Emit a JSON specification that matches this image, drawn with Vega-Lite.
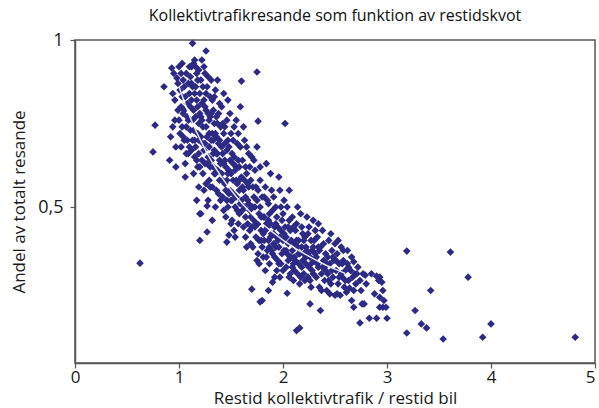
{
  "$schema": "https://vega.github.io/schema/vega-lite/v6.json",
  "width": 520,
  "height": 323,
  "autosize": {"type": "none"},
  "padding": {"left": 75, "top": 40, "right": 4, "bottom": 45},
  "background": "white",
  "config": {
    "view": {"stroke": "#555555", "strokeWidth": 1.5},
    "font": "Open Sans",
    "axis": {"domainColor": "#555555", "domainWidth": 1.5, "tickColor": "#555555", "tickWidth": 1.2, "grid": false, "labelColor": "#1a1a1a", "titleColor": "#1a1a1a", "labelFont": "Open Sans", "titleFont": "Open Sans", "titleFontWeight": "normal"}
  },
  "title": {"text": "Kollektivtrafikresande som funktion av restidskvot", "fontSize": 16, "fontWeight": "normal", "font": "Open Sans", "color": "#111111", "offset": 7, "anchor": "middle"},
  "datasets": {
    "fit": [
      {"x": 1.0, "y": 0.86}, {"x": 1.1, "y": 0.774}, {"x": 1.2, "y": 0.704}, {"x": 1.3, "y": 0.644}, {"x": 1.4, "y": 0.594}, {"x": 1.5, "y": 0.551}, {"x": 1.6, "y": 0.513}, {"x": 1.7, "y": 0.48}, {"x": 1.8, "y": 0.45}, {"x": 1.9, "y": 0.425}, {"x": 2.0, "y": 0.401}, {"x": 2.1, "y": 0.38}, {"x": 2.2, "y": 0.361}, {"x": 2.3, "y": 0.344}, {"x": 2.4, "y": 0.328}, {"x": 2.5, "y": 0.314}, {"x": 2.6, "y": 0.301}
    ],
    "pts": [
      {"x":0.625,"y":0.332},{"x":0.77,"y":0.745},{"x":0.75,"y":0.665},{"x":0.856,"y":0.86},
      {"x":0.92,"y":0.71},{"x":0.93,"y":0.916},{"x":0.94,"y":0.74},{"x":0.95,"y":0.90},{"x":0.96,"y":0.82},{"x":0.97,"y":0.68},{"x":0.98,"y":0.886},{"x":0.99,"y":0.79},{"x":0.91,"y":0.64},{"x":0.96,"y":0.76},{"x":0.99,"y":0.87},{"x":0.94,"y":0.84},{"x":0.97,"y":0.62},
      {"x":1.0,"y":0.92},{"x":1.01,"y":0.85},{"x":1.02,"y":0.80},{"x":1.03,"y":0.74},{"x":1.04,"y":0.88},{"x":1.05,"y":0.70},{"x":1.06,"y":0.83},{"x":1.07,"y":0.90},{"x":1.08,"y":0.77},{"x":1.09,"y":0.66},{"x":1.01,"y":0.72},{"x":1.03,"y":0.93},{"x":1.05,"y":0.86},{"x":1.06,"y":0.63},{"x":1.08,"y":0.81},{"x":1.09,"y":0.87},{"x":1.02,"y":0.68},{"x":1.04,"y":0.78},{"x":1.07,"y":0.74},{"x":1.1,"y":0.92},{"x":1.0,"y":0.76},{"x":1.06,"y":0.59},{"x":1.03,"y":0.83},{"x":1.08,"y":0.70},
      {"x":1.11,"y":0.89},{"x":1.12,"y":0.82},{"x":1.13,"y":0.99},{"x":1.13,"y":0.76},{"x":1.14,"y":0.93},{"x":1.15,"y":0.70},{"x":1.16,"y":0.86},{"x":1.17,"y":0.64},{"x":1.18,"y":0.80},{"x":1.19,"y":0.91},{"x":1.11,"y":0.73},{"x":1.12,"y":0.67},{"x":1.14,"y":0.60},{"x":1.15,"y":0.84},{"x":1.16,"y":0.77},{"x":1.17,"y":0.90},{"x":1.18,"y":0.72},{"x":1.19,"y":0.56},{"x":1.2,"y":0.84},{"x":1.11,"y":0.80},{"x":1.13,"y":0.86},{"x":1.15,"y":0.94},{"x":1.16,"y":0.68},{"x":1.18,"y":0.62},{"x":1.19,"y":0.75},{"x":1.12,"y":0.92},{"x":1.14,"y":0.79},{"x":1.17,"y":0.52},{"x":1.2,"y":0.48},{"x":1.2,"y":0.40},{"x":1.13,"y":0.70},{"x":1.19,"y":0.66},
      {"x":1.21,"y":0.88},{"x":1.22,"y":0.81},{"x":1.23,"y":0.74},{"x":1.24,"y":0.92},{"x":1.25,"y":0.69},{"x":1.26,"y":0.967},{"x":1.26,"y":0.84},{"x":1.27,"y":0.503},{"x":1.27,"y":0.425},{"x":1.27,"y":0.63},{"x":1.28,"y":0.78},{"x":1.29,"y":0.58},{"x":1.21,"y":0.71},{"x":1.22,"y":0.64},{"x":1.23,"y":0.86},{"x":1.24,"y":0.55},{"x":1.25,"y":0.80},{"x":1.26,"y":0.74},{"x":1.28,"y":0.89},{"x":1.29,"y":0.68},{"x":1.3,"y":0.83},{"x":1.21,"y":0.77},{"x":1.23,"y":0.60},{"x":1.25,"y":0.90},{"x":1.27,"y":0.71},{"x":1.28,"y":0.52},{"x":1.29,"y":0.76},{"x":1.22,"y":0.94},{"x":1.24,"y":0.67},{"x":1.3,"y":0.62},{"x":1.26,"y":0.57},{"x":1.21,"y":0.48},
      {"x":1.31,"y":0.88},{"x":1.32,"y":0.72},{"x":1.33,"y":0.79},{"x":1.34,"y":0.60},{"x":1.35,"y":0.85},{"x":1.36,"y":0.66},{"x":1.37,"y":0.75},{"x":1.38,"y":0.54},{"x":1.39,"y":0.81},{"x":1.31,"y":0.64},{"x":1.32,"y":0.56},{"x":1.33,"y":0.70},{"x":1.34,"y":0.83},{"x":1.35,"y":0.50},{"x":1.36,"y":0.77},{"x":1.37,"y":0.61},{"x":1.38,"y":0.69},{"x":1.39,"y":0.58},{"x":1.4,"y":0.74},{"x":1.31,"y":0.78},{"x":1.33,"y":0.62},{"x":1.35,"y":0.72},{"x":1.37,"y":0.88},{"x":1.39,"y":0.64},{"x":1.32,"y":0.46},{"x":1.36,"y":0.55},{"x":1.4,"y":0.52},{"x":1.34,"y":0.67},
      {"x":1.41,"y":0.80},{"x":1.42,"y":0.66},{"x":1.43,"y":0.72},{"x":1.44,"y":0.57},{"x":1.45,"y":0.62},{"x":1.46,"y":0.395},{"x":1.46,"y":0.76},{"x":1.47,"y":0.50},{"x":1.48,"y":0.416},{"x":1.48,"y":0.68},{"x":1.49,"y":0.55},{"x":1.5,"y":0.72},{"x":1.41,"y":0.60},{"x":1.42,"y":0.53},{"x":1.43,"y":0.84},{"x":1.44,"y":0.64},{"x":1.45,"y":0.47},{"x":1.46,"y":0.58},{"x":1.47,"y":0.70},{"x":1.48,"y":0.61},{"x":1.49,"y":0.78},{"x":1.5,"y":0.45},{"x":1.42,"y":0.75},{"x":1.44,"y":0.69},{"x":1.46,"y":0.52},{"x":1.49,"y":0.64},{"x":1.47,"y":0.82},{"x":1.43,"y":0.49},
      {"x":1.51,"y":0.66},{"x":1.52,"y":0.58},{"x":1.53,"y":0.74},{"x":1.54,"y":0.50},{"x":1.55,"y":0.62},{"x":1.56,"y":0.69},{"x":1.57,"y":0.45},{"x":1.58,"y":0.55},{"x":1.59,"y":0.80},{"x":1.6,"y":0.877},{"x":1.51,"y":0.52},{"x":1.52,"y":0.70},{"x":1.53,"y":0.43},{"x":1.54,"y":0.61},{"x":1.55,"y":0.76},{"x":1.56,"y":0.57},{"x":1.57,"y":0.64},{"x":1.58,"y":0.48},{"x":1.59,"y":0.68},{"x":1.6,"y":0.59},{"x":1.52,"y":0.63},{"x":1.55,"y":0.53},{"x":1.57,"y":0.72},{"x":1.6,"y":0.52},{"x":1.54,"y":0.41},{"x":1.58,"y":0.62},{"x":1.51,"y":0.46},
      {"x":1.61,"y":0.64},{"x":1.62,"y":0.55},{"x":1.63,"y":0.70},{"x":1.64,"y":0.47},{"x":1.65,"y":0.60},{"x":1.66,"y":0.52},{"x":1.67,"y":0.66},{"x":1.68,"y":0.43},{"x":1.69,"y":0.58},{"x":1.7,"y":0.50},{"x":1.61,"y":0.49},{"x":1.62,"y":0.74},{"x":1.63,"y":0.58},{"x":1.64,"y":0.41},{"x":1.65,"y":0.68},{"x":1.66,"y":0.45},{"x":1.67,"y":0.56},{"x":1.68,"y":0.62},{"x":1.69,"y":0.39},{"x":1.7,"y":0.254},{"x":1.7,"y":0.65},{"x":1.62,"y":0.44},{"x":1.65,"y":0.38},{"x":1.67,"y":0.51},{"x":1.69,"y":0.47},{"x":1.64,"y":0.53},
      {"x":1.71,"y":0.56},{"x":1.72,"y":0.46},{"x":1.73,"y":0.61},{"x":1.74,"y":0.41},{"x":1.75,"y":0.52},{"x":1.75,"y":0.904},{"x":1.76,"y":0.757},{"x":1.76,"y":0.36},{"x":1.77,"y":0.48},{"x":1.78,"y":0.216},{"x":1.78,"y":0.58},{"x":1.79,"y":0.43},{"x":1.8,"y":0.53},{"x":1.71,"y":0.38},{"x":1.72,"y":0.64},{"x":1.73,"y":0.50},{"x":1.74,"y":0.45},{"x":1.75,"y":0.34},{"x":1.76,"y":0.55},{"x":1.77,"y":0.40},{"x":1.78,"y":0.62},{"x":1.79,"y":0.47},{"x":1.8,"y":0.38},{"x":1.72,"y":0.53},{"x":1.75,"y":0.68},{"x":1.8,"y":0.22},{"x":1.77,"y":0.33},
      {"x":1.81,"y":0.47},{"x":1.82,"y":0.40},{"x":1.83,"y":0.56},{"x":1.84,"y":0.35},{"x":1.85,"y":0.44},{"x":1.86,"y":0.25},{"x":1.86,"y":0.51},{"x":1.87,"y":0.38},{"x":1.88,"y":0.60},{"x":1.89,"y":0.42},{"x":1.9,"y":0.275},{"x":1.9,"y":0.49},{"x":1.81,"y":0.35},{"x":1.82,"y":0.53},{"x":1.83,"y":0.43},{"x":1.84,"y":0.63},{"x":1.85,"y":0.37},{"x":1.86,"y":0.46},{"x":1.87,"y":0.33},{"x":1.88,"y":0.41},{"x":1.89,"y":0.55},{"x":1.9,"y":0.36},{"x":1.83,"y":0.31},{"x":1.85,"y":0.52},{"x":1.88,"y":0.45},{"x":1.82,"y":0.47},
      {"x":1.91,"y":0.42},{"x":1.92,"y":0.35},{"x":1.93,"y":0.50},{"x":1.94,"y":0.31},{"x":1.95,"y":0.44},{"x":1.96,"y":0.38},{"x":1.97,"y":0.55},{"x":1.98,"y":0.33},{"x":1.99,"y":0.46},{"x":2.0,"y":0.40},{"x":1.91,"y":0.53},{"x":1.92,"y":0.29},{"x":1.93,"y":0.38},{"x":1.94,"y":0.47},{"x":1.95,"y":0.34},{"x":1.96,"y":0.59},{"x":1.97,"y":0.41},{"x":1.98,"y":0.50},{"x":1.99,"y":0.36},{"x":2.0,"y":0.31},{"x":1.94,"y":0.41},{"x":1.97,"y":0.29},{"x":2.0,"y":0.48},{"x":1.92,"y":0.44},
      {"x":2.01,"y":0.37},{"x":2.02,"y":0.75},{"x":2.02,"y":0.44},{"x":2.03,"y":0.32},{"x":2.04,"y":0.242},{"x":2.04,"y":0.50},{"x":2.05,"y":0.39},{"x":2.06,"y":0.29},{"x":2.07,"y":0.43},{"x":2.08,"y":0.35},{"x":2.09,"y":0.47},{"x":2.1,"y":0.33},{"x":2.01,"y":0.52},{"x":2.03,"y":0.41},{"x":2.05,"y":0.34},{"x":2.06,"y":0.46},{"x":2.07,"y":0.30},{"x":2.08,"y":0.40},{"x":2.09,"y":0.37},{"x":2.1,"y":0.44},{"x":2.04,"y":0.36},{"x":2.06,"y":0.55},{"x":2.1,"y":0.28},
      {"x":2.11,"y":0.39},{"x":2.12,"y":0.34},{"x":2.13,"y":0.13},{"x":2.13,"y":0.45},{"x":2.14,"y":0.30},{"x":2.15,"y":0.40},{"x":2.16,"y":0.27},{"x":2.16,"y":0.36},{"x":2.17,"y":0.48},{"x":2.18,"y":0.32},{"x":2.19,"y":0.42},{"x":2.2,"y":0.36},{"x":2.11,"y":0.31},{"x":2.12,"y":0.43},{"x":2.14,"y":0.38},{"x":2.15,"y":0.33},{"x":2.17,"y":0.29},{"x":2.18,"y":0.44},{"x":2.19,"y":0.34},{"x":2.2,"y":0.30},{"x":2.16,"y":0.138},{"x":2.14,"y":0.50},
      {"x":2.21,"y":0.41},{"x":2.22,"y":0.33},{"x":2.23,"y":0.37},{"x":2.24,"y":0.29},{"x":2.25,"y":0.44},{"x":2.26,"y":0.21},{"x":2.26,"y":0.28},{"x":2.26,"y":0.35},{"x":2.27,"y":0.40},{"x":2.28,"y":0.31},{"x":2.29,"y":0.46},{"x":2.3,"y":0.34},{"x":2.21,"y":0.28},{"x":2.22,"y":0.38},{"x":2.24,"y":0.42},{"x":2.25,"y":0.32},{"x":2.27,"y":0.26},{"x":2.28,"y":0.37},{"x":2.29,"y":0.30},{"x":2.3,"y":0.40},{"x":2.23,"y":0.47},
      {"x":2.31,"y":0.36},{"x":2.32,"y":0.29},{"x":2.33,"y":0.41},{"x":2.34,"y":0.32},{"x":2.35,"y":0.26},{"x":2.36,"y":0.19},{"x":2.36,"y":0.38},{"x":2.37,"y":0.30},{"x":2.38,"y":0.43},{"x":2.39,"y":0.34},{"x":2.4,"y":0.28},{"x":2.31,"y":0.43},{"x":2.33,"y":0.33},{"x":2.35,"y":0.37},{"x":2.37,"y":0.25},{"x":2.39,"y":0.39},{"x":2.4,"y":0.32},{"x":2.34,"y":0.45},
      {"x":2.41,"y":0.36},{"x":2.42,"y":0.25},{"x":2.43,"y":0.30},{"x":2.44,"y":0.40},{"x":2.45,"y":0.33},{"x":2.46,"y":0.27},{"x":2.47,"y":0.37},{"x":2.48,"y":0.29},{"x":2.49,"y":0.34},{"x":2.5,"y":0.236},{"x":2.5,"y":0.39},{"x":2.42,"y":0.33},{"x":2.44,"y":0.28},{"x":2.46,"y":0.42},{"x":2.48,"y":0.35},{"x":2.45,"y":0.24},
      {"x":2.51,"y":0.31},{"x":2.52,"y":0.36},{"x":2.53,"y":0.27},{"x":2.54,"y":0.33},{"x":2.55,"y":0.236},{"x":2.56,"y":0.38},{"x":2.57,"y":0.29},{"x":2.58,"y":0.34},{"x":2.59,"y":0.26},{"x":2.6,"y":0.31},{"x":2.53,"y":0.40},{"x":2.56,"y":0.30},{"x":2.58,"y":0.37},{"x":2.52,"y":0.24},
      {"x":2.61,"y":0.245},{"x":2.62,"y":0.33},{"x":2.63,"y":0.28},{"x":2.64,"y":0.257},{"x":2.65,"y":0.31},{"x":2.66,"y":0.35},{"x":2.67,"y":0.29},{"x":2.68,"y":0.336},{"x":2.68,"y":0.2},{"x":2.68,"y":0.25},{"x":2.69,"y":0.30},{"x":2.7,"y":0.27},{"x":2.62,"y":0.37},{"x":2.66,"y":0.22},
      {"x":2.72,"y":0.32},{"x":2.74,"y":0.153},{"x":2.74,"y":0.28},{"x":2.76,"y":0.21},{"x":2.77,"y":0.30},{"x":2.78,"y":0.21},{"x":2.79,"y":0.296},{"x":2.75,"y":0.25},{"x":2.8,"y":0.27},
      {"x":2.83,"y":0.167},{"x":2.85,"y":0.30},{"x":2.9,"y":0.167},{"x":2.9,"y":0.293},{"x":2.92,"y":0.28},{"x":2.93,"y":0.29},{"x":2.93,"y":0.2},{"x":2.93,"y":0.23},{"x":2.95,"y":0.275},{"x":2.96,"y":0.25},{"x":2.96,"y":0.2},{"x":2.97,"y":0.22},{"x":2.99,"y":0.2},{"x":3.0,"y":0.167},{"x":2.88,"y":0.24},
      {"x":3.19,"y":0.368},{"x":3.61,"y":0.365},{"x":3.78,"y":0.29},{"x":3.42,"y":0.25},{"x":3.27,"y":0.19},{"x":3.33,"y":0.15},{"x":3.38,"y":0.138},{"x":3.19,"y":0.123},{"x":3.54,"y":0.105},{"x":4.0,"y":0.15},{"x":3.92,"y":0.11},{"x":4.81,"y":0.11},
      {"x":1.02,"y":0.90},{"x":1.04,"y":0.71},{"x":1.05,"y":0.79},{"x":1.07,"y":0.66},{"x":1.09,"y":0.76},{"x":1.1,"y":0.84},{"x":1.1,"y":0.68},{"x":1.12,"y":0.87},{"x":1.14,"y":0.73},{"x":1.15,"y":0.65},{"x":1.16,"y":0.92},{"x":1.17,"y":0.82},{"x":1.18,"y":0.88},{"x":1.19,"y":0.70},{"x":1.2,"y":0.78},{"x":1.2,"y":0.62},{"x":1.22,"y":0.76},{"x":1.23,"y":0.69},{"x":1.24,"y":0.82},{"x":1.25,"y":0.63},{"x":1.26,"y":0.79},{"x":1.27,"y":0.86},{"x":1.28,"y":0.65},{"x":1.29,"y":0.72},{"x":1.3,"y":0.77},{"x":1.3,"y":0.56},{"x":1.31,"y":0.70},{"x":1.32,"y":0.82},{"x":1.33,"y":0.66},{"x":1.34,"y":0.75},{"x":1.35,"y":0.60},{"x":1.36,"y":0.71},{"x":1.37,"y":0.66},{"x":1.38,"y":0.78},{"x":1.39,"y":0.70},{"x":1.4,"y":0.63},{"x":1.41,"y":0.68},{"x":1.42,"y":0.58},{"x":1.43,"y":0.63},{"x":1.44,"y":0.74},{"x":1.45,"y":0.55},{"x":1.46,"y":0.67},{"x":1.47,"y":0.60},{"x":1.48,"y":0.54},{"x":1.5,"y":0.60},{"x":1.5,"y":0.52},{"x":1.52,"y":0.54},{"x":1.53,"y":0.65},{"x":1.55,"y":0.58},{"x":1.56,"y":0.49},{"x":1.58,"y":0.58},{"x":1.59,"y":0.51},{"x":1.61,"y":0.56},{"x":1.63,"y":0.50},{"x":1.64,"y":0.62},{"x":1.66,"y":0.57},{"x":1.68,"y":0.49},{"x":1.7,"y":0.44},{"x":1.71,"y":0.50},{"x":1.73,"y":0.44},{"x":1.74,"y":0.56},{"x":1.76,"y":0.45},{"x":1.78,"y":0.50},{"x":1.79,"y":0.40},{"x":1.81,"y":0.42},{"x":1.84,"y":0.45},{"x":1.86,"y":0.40},{"x":1.87,"y":0.48},{"x":1.89,"y":0.37},{"x":1.91,"y":0.39},{"x":1.93,"y":0.45},{"x":1.95,"y":0.40},{"x":1.96,"y":0.33},{"x":1.98,"y":0.43},{"x":2.01,"y":0.42},{"x":2.03,"y":0.37},{"x":2.05,"y":0.44},{"x":2.07,"y":0.35},{"x":2.09,"y":0.32},{"x":2.11,"y":0.35},{"x":2.13,"y":0.40},{"x":2.15,"y":0.36},{"x":2.18,"y":0.38},{"x":2.2,"y":0.40},{"x":2.22,"y":0.35},{"x":2.24,"y":0.36},{"x":2.27,"y":0.33},{"x":2.29,"y":0.38},{"x":2.32,"y":0.35},{"x":2.34,"y":0.38},{"x":2.38,"y":0.32},{"x":2.41,"y":0.31},{"x":2.43,"y":0.35},{"x":2.47,"y":0.31},{"x":2.51,"y":0.34},{"x":2.54,"y":0.29},{"x":2.57,"y":0.33},{"x":2.6,"y":0.28},{"x":2.63,"y":0.32},{"x":2.71,"y":0.30}
    ]
  },
  "layer": [
    {
      "data": {"name": "pts"},
      "mark": {"type": "point", "shape": "diamond", "filled": true, "size": 58, "color": "#2d2a86", "opacity": 1},
      "encoding": {
        "x": {"field": "x", "type": "quantitative", "scale": {"domain": [0, 5], "nice": false, "zero": false},
          "axis": {"values": [0, 1, 2, 3, 4, 5], "format": "d", "title": "Restid kollektivtrafik / restid bil", "labelFontSize": 17, "titleFontSize": 17, "tickSize": 5, "labelPadding": 1, "titlePadding": 5, "labelFlush": false,
            "labelAlign": {"condition": {"test": "datum.value == 5", "value": "right"}, "value": "center"}}},
        "y": {"field": "y", "type": "quantitative", "scale": {"domain": [0.033, 1], "nice": false, "zero": false},
          "axis": {"values": [0.5, 1], "labelExpr": "replace(toString(datum.value), '.', ',')", "title": "Andel av totalt resande", "labelFontSize": 18, "titleFontSize": 17, "tickSize": 5, "labelPadding": 7, "titlePadding": 9}}
      }
    },
    {
      "data": {"name": "fit"},
      "mark": {"type": "line", "color": "#ffffff", "strokeWidth": 1.5, "opacity": 0.85, "interpolate": "monotone"},
      "encoding": {
        "x": {"field": "x", "type": "quantitative"},
        "y": {"field": "y", "type": "quantitative"}
      }
    }
  ]
}
